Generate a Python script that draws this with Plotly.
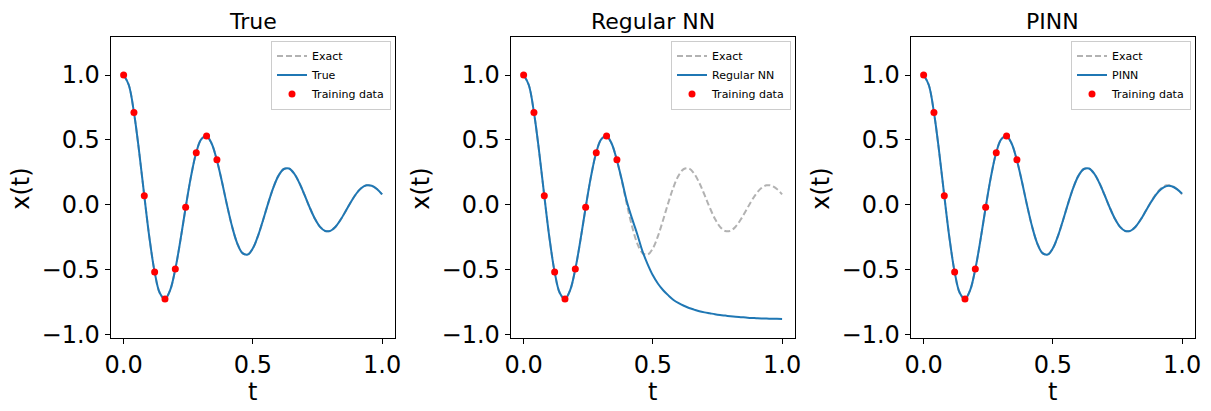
import plotly.graph_objects as go

# ---- data ----
t_curve = [0.00, 0.02, 0.04, 0.06, 0.08, 0.10, 0.12, 0.14, 0.16, 0.18,
           0.20, 0.22, 0.24, 0.26, 0.28, 0.30, 0.32, 0.34, 0.36, 0.38,
           0.40, 0.42, 0.44, 0.46, 0.48, 0.50, 0.52, 0.54, 0.56, 0.58,
           0.60, 0.62, 0.64, 0.66, 0.68, 0.70, 0.72, 0.74, 0.76, 0.78,
           0.80, 0.82, 0.84, 0.86, 0.88, 0.90, 0.92, 0.94, 0.96, 0.98, 1.00]

x_exact = [1.000, 0.923, 0.711, 0.409, 0.068, -0.258, -0.519, -0.682, -0.728, -0.660,
           -0.497, -0.272, -0.022, 0.210, 0.395, 0.504, 0.530, 0.474, 0.349, 0.181,
           -0.003, -0.171, -0.300, -0.374, -0.385, -0.337, -0.241, -0.116, 0.016, 0.136,
           0.226, 0.275, 0.279, 0.239, 0.167, 0.075, -0.022, -0.108, -0.171, -0.203,
           -0.202, -0.170, -0.115, -0.047, 0.023, 0.084, 0.128, 0.149, 0.146, 0.121, 0.079]

x_true = list(x_exact)

x_nn = [1.000, 0.923, 0.711, 0.409, 0.068, -0.258, -0.519, -0.682, -0.728, -0.660,
        -0.497, -0.272, -0.022, 0.210, 0.395, 0.504, 0.530, 0.474, 0.349, 0.190,
        0.020, -0.110, -0.230, -0.360, -0.460, -0.545, -0.610, -0.660, -0.700, -0.735,
        -0.760, -0.780, -0.797, -0.810, -0.822, -0.831, -0.838, -0.845, -0.851, -0.856,
        -0.861, -0.865, -0.868, -0.871, -0.874, -0.876, -0.878, -0.879, -0.880, -0.881, -0.882]

x_pinn = [1.000, 0.923, 0.711, 0.409, 0.068, -0.258, -0.519, -0.682, -0.728, -0.660,
          -0.497, -0.272, -0.022, 0.210, 0.395, 0.504, 0.530, 0.474, 0.349, 0.181,
          -0.003, -0.171, -0.300, -0.374, -0.385, -0.337, -0.241, -0.116, 0.016, 0.136,
          0.226, 0.275, 0.279, 0.239, 0.167, 0.075, -0.022, -0.108, -0.171, -0.203,
          -0.202, -0.170, -0.115, -0.047, 0.020, 0.080, 0.122, 0.143, 0.142, 0.120, 0.085]

t_train = [0.000, 0.040, 0.080, 0.120, 0.160, 0.200, 0.240, 0.281, 0.321, 0.361]
x_train = [1.000, 0.710, 0.068, -0.520, -0.728, -0.497, -0.020, 0.400, 0.530, 0.347]

titles = ["True", "Regular NN", "PINN"]
model_names = ["True", "Regular NN", "PINN"]
model_values = [x_true, x_nn, x_pinn]

x_ticks = [0.0, 0.5, 1.0]
x_ticklabels = ["0.0", "0.5", "1.0"]
y_ticks = [-1.0, -0.5, 0.0, 0.5, 1.0]
y_ticklabels = ["\u22121.0", "\u22120.5", "0.0", "0.5", "1.0"]

# ---- layout geometry (pixels) ----
W, H = 1211, 411
FONT = "DejaVu Sans"
BLUE = "#1f77b4"
GREY = "rgb(178,178,178)"
lefts = [110.7, 510.7, 910.7]
plot_w = 284.3
top_px, bot_px = 37.3, 338.3

fig = go.Figure()
layout = dict(
    width=W, height=H, autosize=False,
    margin=dict(l=0, r=0, t=0, b=0, pad=0),
    paper_bgcolor="white", plot_bgcolor="white",
    font=dict(family=FONT, size=22, color="black"),
    showlegend=True,
)
annotations = []

for i in range(3):
    sfx = "" if i == 0 else str(i + 1)
    xa, ya = "x" + sfx, "y" + sfx
    leg = "legend" + sfx
    fig.add_trace(go.Scatter(x=t_curve, y=x_exact, mode="lines", name="Exact",
                             line=dict(color=GREY, width=2, dash="6px,3px", shape="spline"),
                             xaxis=xa, yaxis=ya, legend=leg))
    fig.add_trace(go.Scatter(x=t_curve, y=model_values[i], mode="lines", name=model_names[i],
                             line=dict(color=BLUE, width=2, shape="spline"),
                             xaxis=xa, yaxis=ya, legend=leg))
    fig.add_trace(go.Scatter(x=t_train, y=x_train, mode="markers", name="Training data",
                             marker=dict(color="red", size=7, line=dict(width=0)),
                             xaxis=xa, yaxis=ya, legend=leg))

    x0 = lefts[i] / W
    x1 = (lefts[i] + plot_w) / W
    axis_common = dict(showline=True, mirror=True, linecolor="black", linewidth=1,
                       ticks="outside", ticklen=5, tickwidth=1, tickcolor="black",
                       showgrid=False, zeroline=False, automargin=False,
                       tickfont=dict(family=FONT, size=24, color="black"))
    layout["xaxis" + sfx] = dict(domain=[x0, x1], range=[-0.05, 1.05],
                                 anchor=ya, tickvals=x_ticks, ticktext=x_ticklabels,
                                 **axis_common)
    layout["yaxis" + sfx] = dict(domain=[1 - bot_px / H, 1 - top_px / H], range=[-1.031, 1.291],
                                 anchor=xa, tickvals=y_ticks, ticktext=y_ticklabels,
                                 **axis_common)
    layout[leg] = dict(x=(lefts[i] + plot_w - 4) / W, y=1 - 40.5 / H,
                       xanchor="right", yanchor="top",
                       bgcolor="rgba(255,255,255,0.8)", bordercolor="#cccccc", borderwidth=1,
                       font=dict(family=FONT, size=11, color="black"),
                       tracegroupgap=0, itemwidth=30)
    cx = (lefts[i] + plot_w / 2) / W
    annotations.append(dict(text=titles[i], x=cx, y=1 - 21 / H, xref="paper", yref="paper",
                            xanchor="center", yanchor="middle", showarrow=False,
                            font=dict(family=FONT, size=22, color="black")))
    annotations.append(dict(text="t", x=cx, y=1 - 392 / H, xref="paper", yref="paper",
                            xanchor="center", yanchor="middle", showarrow=False,
                            font=dict(family=FONT, size=24, color="black")))
    annotations.append(dict(text="x(t)", x=(lefts[i] - 90) / W, y=1 - 189 / H,
                            xref="paper", yref="paper", textangle=-90,
                            xanchor="center", yanchor="middle", showarrow=False,
                            font=dict(family=FONT, size=24, color="black")))

layout["annotations"] = annotations
fig.update_layout(**layout)
fig.write_html("out.html")
